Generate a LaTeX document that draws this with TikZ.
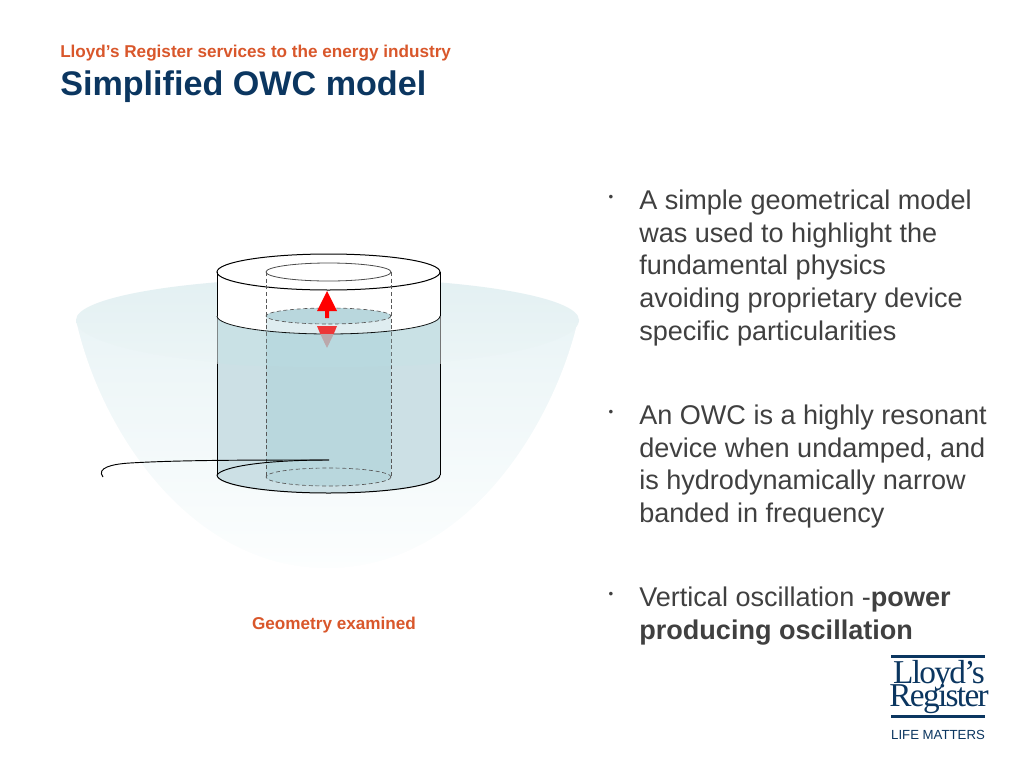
\documentclass[tikz,border=0pt]{standalone}
\usepackage{fontspec}
\setmainfont{Liberation Sans}
\newfontfamily\logofont[LetterSpace=-5]{Liberation Serif}
\definecolor{lrorange}{HTML}{D9572B}
\definecolor{lrblue}{HTML}{0B3660}
\definecolor{bodygrey}{HTML}{404040}
\definecolor{waterout}{HTML}{CCE0E5}
\definecolor{waterin}{HTML}{B9D7DD}
\definecolor{bowltop}{HTML}{EAF4F6}
\definecolor{bowllow}{HTML}{FCFEFE}
\definecolor{rimtop}{HTML}{E3F0F2}
\definecolor{rimlow}{HTML}{ECF5F6}
\definecolor{veil}{HTML}{BCE6EA}
\tikzset{
  bodytext/.style={anchor=north west,align=left,text=bodygrey,font=\fontsize{20.3}{24.4}\selectfont,inner sep=0pt},
  dot/.style={anchor=center,text=bodygrey,font=\fontsize{10}{10}\selectfont,inner sep=0pt},
  hidden/.style={dashed,dash pattern=on 3pt off 2pt,draw=black!65,line width=0.5pt},
  wall/.style={draw=black,line width=0.75pt},
  logotext/.style={anchor=base,inner sep=0pt,text=lrblue,font=\logofont\fontsize{25}{25}\selectfont}
}
\begin{document}
\begin{tikzpicture}[x=0.75pt,y=-0.75pt]
\useasboundingbox(0,0)rectangle(1024,768);
\fill[white](0,0)rectangle(1024,768);
% bowl of water
\shade[top color=bowltop,bottom color=bowllow](60,320)rectangle(600,568);
\fill[white,even odd rule](50,310)rectangle(610,580)
  (76,320)--(578,320) .. controls (555,420) and (470,568) .. (327,568)
  .. controls (190,568) and (100,430) .. (76,320)--cycle;
\shade[top color=rimtop,bottom color=rimlow](76,320)arc[x radius=251.5,y radius=42,start angle=180,end angle=360]arc[x radius=251.5,y radius=47,start angle=0,end angle=180]--cycle;
% cylinder, air gap and water column
\fill[waterout](217,316)--(217,475)arc[x radius=111.5,y radius=18,start angle=180,end angle=0]--(440,316)--cycle;
\fill[white](217,272)--(440,272)--(440,316)arc[x radius=111.5,y radius=18,start angle=0,end angle=180]--cycle;
\fill[white](328.5,272)ellipse[x radius=111.5,y radius=18];
\fill[waterin](266,331)arc[x radius=111.5,y radius=18,start angle=124,end angle=56]--(391,477)arc[x radius=62.5,y radius=9,start angle=0,end angle=180]--cycle;
\fill[white!55!waterin](266,316)--(266,331)arc[x radius=111.5,y radius=18,start angle=124,end angle=56]--(391,316)--cycle;
\fill[waterin](328.5,316)ellipse[x radius=62.5,y radius=8];
% walls
\draw[wall](328.5,272)ellipse[x radius=111.5,y radius=18];
\draw[wall](217,272)--(217,316);
\draw[wall](440,272)--(440,316);
\draw[wall,draw=black!55](217,316)--(217,364);
\draw[wall,draw=black!55](440,316)--(440,364);
\draw[wall](217,364)--(217,475);
\draw[wall](440,364)--(440,475);
\draw[wall](217,475)arc[x radius=111.5,y radius=18,start angle=180,end angle=0];
\draw[wall,line width=0.6pt](217,316)arc[x radius=111.5,y radius=18,start angle=180,end angle=0];
\draw[draw=black!70,line width=0.6pt](328.5,272)ellipse[x radius=62.5,y radius=9];
\draw[hidden](266,272)--(266,477);
\draw[hidden](391,272)--(391,477);
\draw[hidden](328.5,316)ellipse[x radius=62.5,y radius=8];
\draw[hidden](328.5,477)ellipse[x radius=62.5,y radius=9];
% rope
\draw[line width=0.7pt](217,475) .. controls (222,467) and (262,460) .. (329,460);
\draw[line width=0.7pt](329,460) .. controls (250,460) and (180,460) .. (130,463)
  .. controls (112,464) and (96,468) .. (103,477);
% arrows
\fill[red](327,291)--(337,311)--(329,311)--(329,318)--(325,318)--(325,311)--(317,311)--cycle;
\fill[red!75!waterin](317,326)--(337,326)--(333.7,334)--(320.3,334)--cycle;
\fill[red!25!waterin!80!gray](320.3,334)--(333.7,334)--(327,348)--cycle;
% veil of the bowl over the column
\fill[veil,opacity=0.18](217,316)arc[x radius=111.5,y radius=18,start angle=180,end angle=0]--(440,362)arc[x radius=111.5,y radius=5,start angle=0,end angle=180]--cycle;
% headings
\node[anchor=west,inner sep=0pt,text=lrorange,font=\bfseries\fontsize{12.85}{14}\selectfont](subhead)at(60,53){Lloyd’s Register services to the energy industry};
\node[anchor=west,inner sep=0pt,text=lrblue,font=\bfseries\fontsize{25.6}{28}\selectfont](title)at(60,87){Simplified OWC model};
\node[anchor=center,inner sep=0pt,text=lrorange,font=\bfseries\fontsize{12.85}{14}\selectfont](caption)at(334,625){Geometry examined};
% bullets
\node[dot](dota)at(611,198){•};
\node[bodytext](texta)at(639,190){A simple geometrical model\\was used to highlight the\\fundamental physics\\avoiding proprietary device\\specific particularities};
\node[dot](dotb)at(611,413){•};
\node[bodytext](textb)at(639,405){An OWC is a highly resonant\\device when undamped, and\\is hydrodynamically narrow\\banded in frequency};
\node[dot](dotc)at(611,595){•};
\node[bodytext](textc)at(639,587){Vertical oscillation -\textbf{power}\\\textbf{producing oscillation}};
% logo
\fill[lrblue](891,655)rectangle(985,658);
\fill[lrblue](891,715)rectangle(985,718);
\node[logotext](logoa)at(939,683){Lloyd’s};
\node[logotext](logob)at(939,706){Register};
\node[anchor=center,inner sep=0pt,text=lrblue,font=\fontsize{9.9}{11}\selectfont](logoc)at(938,735){LIFE MATTERS};
\end{tikzpicture}
\end{document}
